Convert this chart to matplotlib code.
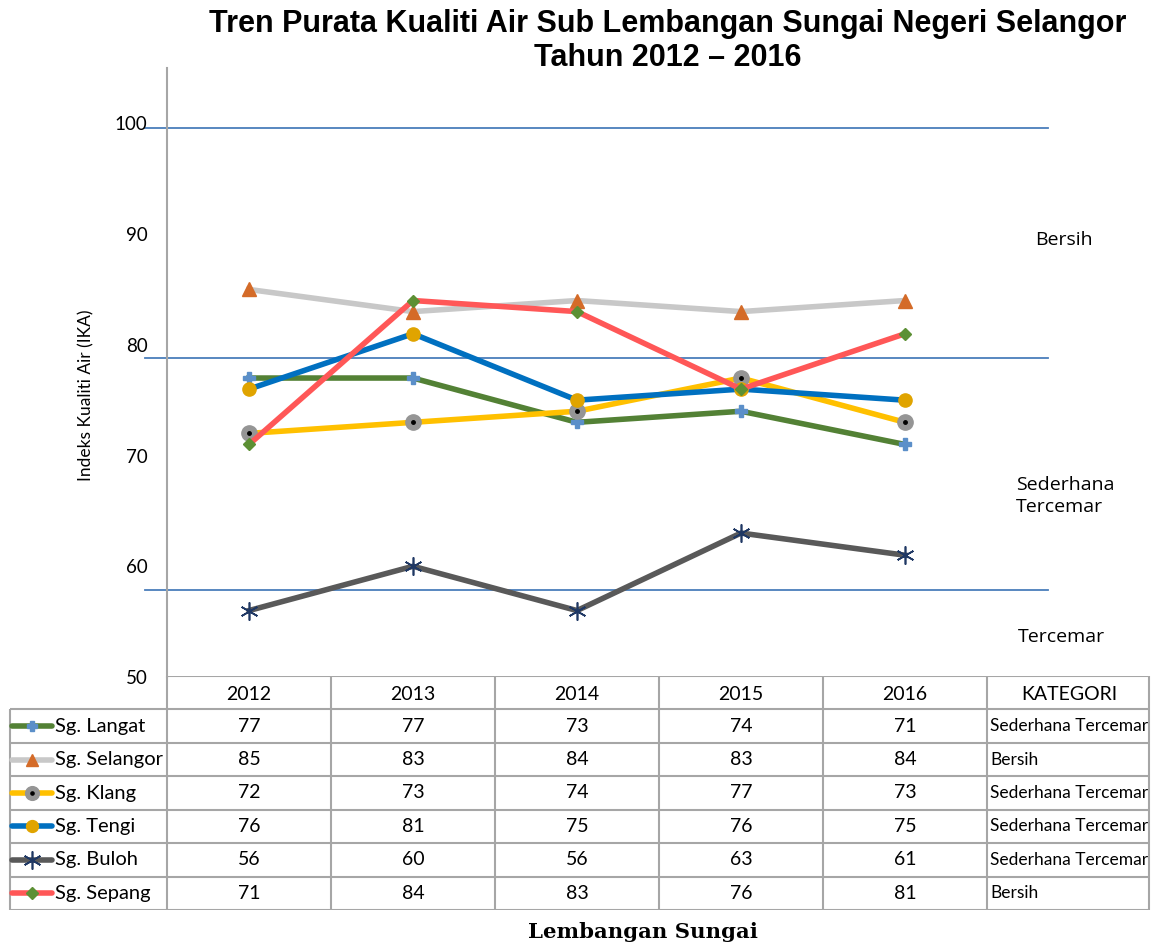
import numpy as np
import matplotlib
matplotlib.use("Agg")
from matplotlib import pyplot as plt

# data
years = ["2012", "2013", "2014", "2015", "2016"]
rivers = ["Sg. Langat", "Sg. Selangor", "Sg. Klang", "Sg. Tengi", "Sg. Buloh", "Sg. Sepang"]
langat = [77, 77, 73, 74, 71]
selangor = [85, 83, 84, 83, 84]
klang = [72, 73, 74, 77, 73]
tengi = [76, 81, 75, 76, 75]
buloh = [56, 60, 56, 63, 61]
sepang = [71, 84, 83, 76, 81]
kategori = ["Sederhana Tercemar", "Bersih", "Sederhana Tercemar",
            "Sederhana Tercemar", "Sederhana Tercemar", "Bersih"]
# hand drawn class boundary lines
boundaries = [99.6, 78.8, 57.9]

series = [langat, selangor, klang, tengi, buloh, sepang]

# line colour, marker, marker colour, marker size
styles = [
    ("#538135", "P", "#5B8FC9", 8),
    ("#C8C8C8", "^", "#D46B28", 10),
    ("#FFC000", "o", "#959595", 11),
    ("#0070C0", "o", "#E0A400", 9.5),
    ("#595959", (6, 2, 0), "#1F3864", 13),
    ("#FF5757", "D", "#5C9034", 6.5),
]

W, H = 1158, 944
FONT = "Lato"
GRID = "#A6A6A6"

fig = plt.figure(figsize=(W / 100, H / 100), dpi=100)

# main plot, x units = table columns (164 px each)
ax = fig.add_axes([167 / W, 1 - 677 / H, 881 / W, 609 / H])
x = np.arange(len(years))
ax.set_xlim(-0.5, -0.5 + 881 / 164)
ax.set_ylim(50, 105)

for y in boundaries:
    ax.axhline(y, xmin=-22 / 881, xmax=1, color="#4A7EBB", lw=1.3, clip_on=False, zorder=1)

for vals, (lc, mk, mc, ms) in zip(series, styles):
    if mk == (6, 2, 0):
        ax.plot(x, vals, color=lc, lw=4, zorder=3)
        ax.plot(x, vals, ls="none", marker=mk, ms=ms, mec=mc, mew=1.2, zorder=4)
    else:
        ax.plot(x, vals, color=lc, lw=4, marker=mk, ms=ms, mfc=mc, mec=mc, zorder=3)
    if lc == "#FFC000":
        ax.plot(x, vals, ls="none", marker="o", ms=2.5, color="black", zorder=4)

ax.set_xticks([])
ax.set_yticks(range(50, 101, 10))
ax.tick_params(axis="y", length=0, pad=14, labelsize=13.5)
for lab in ax.get_yticklabels():
    lab.set_fontfamily(FONT)
for s in ["top", "right", "bottom"]:
    ax.spines[s].set_visible(False)
ax.spines["left"].set_color(GRID)
ax.spines["left"].set_linewidth(1.5)

# data table under the plot
tx = fig.add_axes([0, 1 - 910 / H, 1, 234 / H])
tx.set_xlim(-0.5 - 167 / 164, -0.5 + (W - 167) / 164)
tx.set_ylim(7, 0)
tx.axis("off")

col_edges = [-0.5 + i for i in range(6)] + [5.49]
first = -0.5 - 157 / 164
nrow = len(rivers)
tx.hlines(0, col_edges[0], col_edges[-1], color=GRID, lw=1.5)
for r in range(1, nrow + 2):
    tx.hlines(r, first, col_edges[-1], color=GRID, lw=1.5)
for c in col_edges:
    tx.vlines(c, 0, nrow + 1, color=GRID, lw=1.5)
tx.vlines(first, 1, nrow + 1, color=GRID, lw=1.5)

for i, yr in enumerate(years):
    tx.text(i, 0.55, yr, ha="center", va="center", fontsize=14, family=FONT)
tx.text(5, 0.55, "KATEGORI", ha="center", va="center", fontsize=14, family=FONT)

for r, (name, vals, (lc, mk, mc, ms), kat) in enumerate(zip(rivers, series, styles, kategori)):
    yc = r + 1.5
    kx = [first + 0.012, first + 0.256]
    tx.plot(kx, [yc, yc], color=lc, lw=4, solid_capstyle="round")
    if mk == (6, 2, 0):
        tx.plot([np.mean(kx)], [yc], marker=mk, ms=ms, mec=mc, mew=1.2)
    else:
        tx.plot([np.mean(kx)], [yc], marker=mk, ms=ms * 0.9, mfc=mc, mec=mc)
    if lc == "#FFC000":
        tx.plot([np.mean(kx)], [yc], marker="o", ms=2.3, color="black")
    tx.text(first + 0.275, yc, name, ha="left", va="center", fontsize=14.5, family=FONT)
    for i, v in enumerate(vals):
        tx.text(i, yc, str(v), ha="center", va="center", fontsize=14, family=FONT)
    tx.text(4.5 + 0.02, yc, kat, ha="left", va="center", fontsize=12.5, family=FONT)

# titles and labels
fig.text(668 / W, 1 - 41 / H, "Tren Purata Kualiti Air Sub Lembangan Sungai Negeri Selangor\nTahun 2012 \u2013 2016",
         ha="center", va="center", fontsize=22, fontweight="bold", family="Liberation Sans", linespacing=1.2)
fig.text(86 / W, 1 - 395 / H, "Indeks Kualiti Air (IKA)", rotation=90, ha="center", va="center",
         fontsize=12.5, family=FONT)
fig.text(1035 / W, 1 - 240 / H, "Bersih", ha="left", va="center", fontsize=14, family="Open Sans")
fig.text(1016 / W, 1 - 496 / H, "Sederhana\nTercemar", ha="left", va="center", fontsize=14,
         family="Open Sans", linespacing=1.3)
fig.text(1018 / W, 1 - 637 / H, "Tercemar", ha="left", va="center", fontsize=14, family="Open Sans")
fig.text(643 / W, 1 - 932 / H, "Lembangan Sungai", ha="center", va="center", fontsize=15.3,
         fontweight="bold", family="DejaVu Serif")

fig.savefig("out.png", dpi=100)
